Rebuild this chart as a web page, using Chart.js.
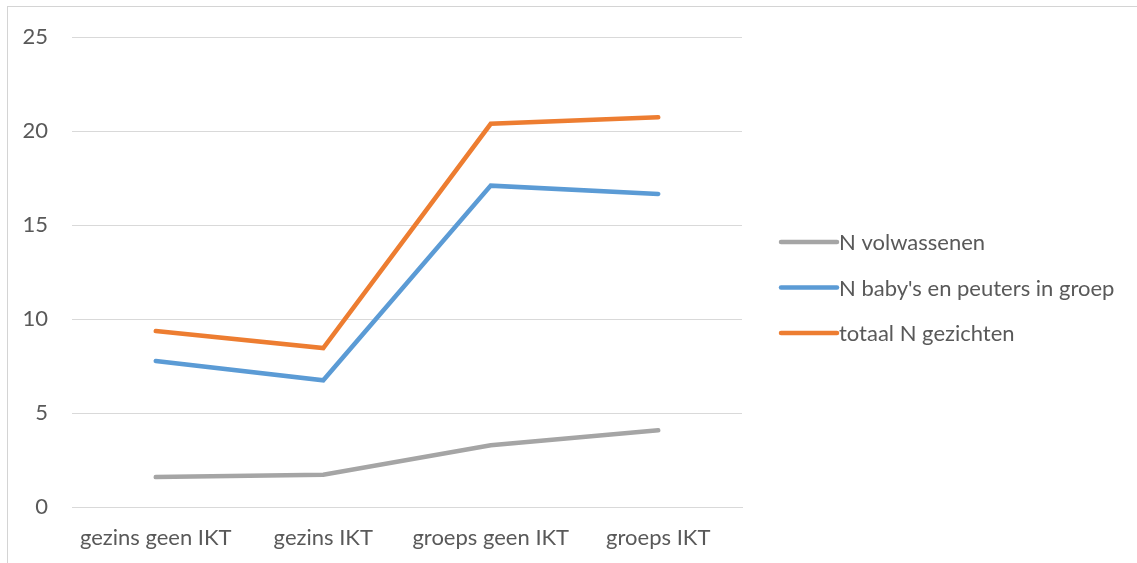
<!DOCTYPE html>
<html>
<head>
<meta charset="utf-8">
<script src="https://cdn.jsdelivr.net/npm/chart.js@4/dist/chart.umd.min.js"></script>
<style>
  html, body { margin: 0; padding: 0; background: #fff; }
  #wrap { position: relative; width: 1137px; height: 563px; overflow: hidden; }
  #frame { position: absolute; left: 7px; top: 6px; width: 1200px; height: 600px;
           border-top: 1px solid #d4d4d4; border-left: 1px solid #d4d4d4; }
  canvas { position: absolute; left: 0; top: 0; }
</style>
</head>
<body>
<div id="wrap">
  <div id="frame"></div>
  <canvas id="c" width="1137" height="563"></canvas>
</div>
<script>
const categories = ['gezins geen IKT', 'gezins IKT', 'groeps geen IKT', 'groeps IKT'];
const volwassenen = [1.59, 1.72, 3.29, 4.08];
const babysPeuters = [7.77, 6.74, 17.10, 16.66];
const totaalGezichten = [9.36, 8.46, 20.39, 20.74];
const yTicks = [0, 5, 10, 15, 20, 25];

const FONT = 'Lato, "Open Sans", sans-serif';
const TEXT = '#595959';

const seriesList = [
  { label: 'N volwassenen', data: volwassenen, color: '#A5A5A5' },
  { label: "N baby's en peuters in groep", data: babysPeuters, color: '#5B9BD5' },
  { label: 'totaal N gezichten', data: totaalGezichten, color: '#ED7D31' }
];

// Legend drawn to the right of the plot: short thick line followed by the label
const sideLegend = {
  id: 'sideLegend',
  afterDraw(chart) {
    const ctx = chart.ctx;
    const x0 = chart.chartArea.right + 39;
    const lineLen = 56;
    const yStart = 242, step = 45.5;
    ctx.save();
    ctx.font = '22px ' + FONT;
    ctx.textBaseline = 'middle';
    ctx.fillStyle = TEXT;
    chart.data.datasets.forEach((ds, i) => {
      const y = yStart + i * step;
      ctx.strokeStyle = ds.borderColor;
      ctx.lineWidth = 4.5;
      ctx.lineCap = 'round';
      ctx.beginPath();
      ctx.moveTo(x0, y);
      ctx.lineTo(x0 + lineLen, y);
      ctx.stroke();
      ctx.fillText(ds.label, x0 + lineLen + 2, y + 1);
    });
    ctx.restore();
  }
};

new Chart(document.getElementById('c'), {
  type: 'line',
  data: {
    labels: categories,
    datasets: seriesList.map(s => ({
      label: s.label,
      data: s.data,
      borderColor: s.color,
      backgroundColor: s.color,
      borderWidth: 4.5,
      borderCapStyle: 'round',
      borderJoinStyle: 'miter',
      pointRadius: 0,
      pointHoverRadius: 0,
      tension: 0,
      fill: false
    }))
  },
  options: {
    responsive: false,
    animation: false,
    events: [],
    layout: { padding: { left: 0, top: 35, right: 395, bottom: 0 } },
    plugins: {
      legend: { display: false },
      tooltip: { enabled: false }
    },
    scales: {
      x: {
        offset: true,
        grid: { display: false, drawTicks: false },
        border: { display: true, color: '#d9d9d9', width: 1 },
        ticks: { color: TEXT, font: { family: FONT, size: 22 }, padding: 18, maxRotation: 0 },
        afterFit(s) { s.height = 56; }
      },
      y: {
        min: 0,
        max: 25,
        afterBuildTicks(s) { s.ticks = yTicks.map(v => ({ value: v })); },
        grid: { color: '#d9d9d9', lineWidth: 1, drawTicks: false },
        border: { display: false },
        ticks: { color: TEXT, font: { family: FONT, size: 22 }, padding: 24 },
        afterFit(s) { s.width = 72; }
      }
    }
  },
  plugins: [sideLegend]
});
</script>
</body>
</html>
